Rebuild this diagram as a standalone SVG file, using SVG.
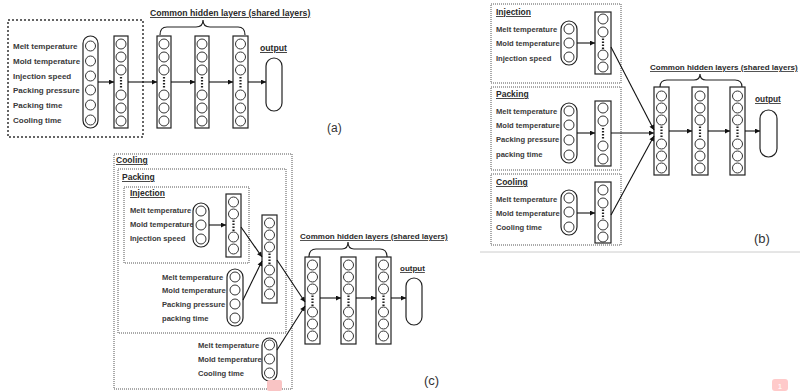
<svg xmlns="http://www.w3.org/2000/svg" width="800" height="391" viewBox="0 0 800 391">
<style>
.lbl{font-family:"Liberation Sans",Arial,sans-serif;font-weight:bold;fill:#3a3a3a}
.ttl{font-family:"Liberation Sans",Arial,sans-serif;font-weight:bold;fill:#2a2a2a;text-decoration:underline}
.pl{font-family:"Liberation Sans",Arial,sans-serif;fill:#333}
.cap,.lay{fill:#fff;stroke:#222;stroke-width:1.2}
.nd{fill:#fff;stroke:#333;stroke-width:1}
.dots{stroke:#222;stroke-width:2.2;stroke-dasharray:1.6 1.4}
.box{fill:none;stroke:#555;stroke-width:1;stroke-dasharray:1 1}
.boxA{fill:none;stroke:#333;stroke-width:1.5;stroke-dasharray:2 2}
.arr{stroke:#111;stroke-width:1.1;fill:none;marker-end:url(#ah)}
.brace{fill:none;stroke:#222;stroke-width:1.2}
</style>
<defs>
<marker id="ah" viewBox="0 0 6 6" refX="6" refY="3" markerWidth="6" markerHeight="5" markerUnits="userSpaceOnUse" orient="auto">
<path d="M0,0 L6,3 L0,6 z" fill="#111"/>
</marker>
</defs>
<rect width="800" height="391" fill="#fff"/>

<!-- ================= Panel (a) ================= -->
<g id="a-inputs">
<rect class="boxA" x="8" y="20" width="135" height="117"/>
<text class="lbl" font-size="8" x="13" y="48.5">Melt temperature</text>
<text class="lbl" font-size="8" x="13" y="63.5">Mold temperature</text>
<text class="lbl" font-size="8" x="13" y="78.5">Injection speed</text>
<text class="lbl" font-size="8" x="13" y="92.5">Packing pressure</text>
<text class="lbl" font-size="8" x="13" y="107.5">Packing time</text>
<text class="lbl" font-size="8" x="13" y="122.5">Cooling time</text>
<rect class="cap" x="83" y="36" width="15" height="92" rx="7.5"/>
<circle class="nd" cx="90.5" cy="46" r="5"/><circle class="nd" cx="90.5" cy="61" r="5"/>
<circle class="nd" cx="90.5" cy="76" r="5"/><circle class="nd" cx="90.5" cy="90" r="5"/>
<circle class="nd" cx="90.5" cy="105" r="5"/><circle class="nd" cx="90.5" cy="120" r="5"/>
</g>
<g id="a-layer1">
<rect class="lay" x="114" y="36" width="14" height="92"/>
<circle class="nd" cx="121" cy="44" r="5"/><circle class="nd" cx="121" cy="57" r="5"/><circle class="nd" cx="121" cy="70" r="5"/>
<line class="dots" x1="121" y1="77" x2="121" y2="89"/>
<circle class="nd" cx="121" cy="95" r="5"/><circle class="nd" cx="121" cy="108" r="5"/><circle class="nd" cx="121" cy="121" r="5"/>
</g>
<g id="a-hidden1">
<rect class="lay" x="157" y="36" width="14" height="92"/>
<circle class="nd" cx="164" cy="44" r="5"/><circle class="nd" cx="164" cy="57" r="5"/><circle class="nd" cx="164" cy="70" r="5"/>
<line class="dots" x1="164" y1="77" x2="164" y2="89"/>
<circle class="nd" cx="164" cy="95" r="5"/><circle class="nd" cx="164" cy="108" r="5"/><circle class="nd" cx="164" cy="121" r="5"/>
</g>
<g id="a-hidden2">
<rect class="lay" x="195" y="36" width="14" height="92"/>
<circle class="nd" cx="202" cy="44" r="5"/><circle class="nd" cx="202" cy="57" r="5"/><circle class="nd" cx="202" cy="70" r="5"/>
<line class="dots" x1="202" y1="77" x2="202" y2="89"/>
<circle class="nd" cx="202" cy="95" r="5"/><circle class="nd" cx="202" cy="108" r="5"/><circle class="nd" cx="202" cy="121" r="5"/>
</g>
<g id="a-hidden3">
<rect class="lay" x="233" y="36" width="15" height="92"/>
<circle class="nd" cx="240.5" cy="44" r="5"/><circle class="nd" cx="240.5" cy="57" r="5"/><circle class="nd" cx="240.5" cy="70" r="5"/>
<line class="dots" x1="240.5" y1="77" x2="240.5" y2="89"/>
<circle class="nd" cx="240.5" cy="95" r="5"/><circle class="nd" cx="240.5" cy="108" r="5"/><circle class="nd" cx="240.5" cy="121" r="5"/>
</g>
<g id="a-output">
<text class="ttl" font-size="8.7" x="260" y="51">output</text>
<rect class="cap" x="266" y="58" width="16" height="53" rx="8"/>
</g>
<g id="a-common">
<text class="ttl" font-size="8.7" x="150" y="16">Common hidden layers (shared layers)</text>
<path class="brace" d="M160,35 Q160,27 167,27 L196,27 Q203,27 203,20 Q203,27 210,27 L238,27 Q245,27 245,35"/>
</g>
<text class="pl" font-size="12" x="327" y="132">(a)</text>

<!-- ================= Panel (b) ================= -->
<g id="b-injection">
<rect class="box" x="491" y="4" width="130" height="79"/>
<text class="ttl" font-size="8.5" x="496" y="15">Injection</text>
<text class="lbl" font-size="7.6" x="496" y="31.5">Melt temperature</text>
<text class="lbl" font-size="7.6" x="496" y="45.5">Mold temperature</text>
<text class="lbl" font-size="7.6" x="496" y="60.5">Injection speed</text>
<rect class="cap" x="561" y="21" width="16" height="44" rx="8"/>
<circle class="nd" cx="569" cy="29" r="5"/><circle class="nd" cx="569" cy="43" r="5"/><circle class="nd" cx="569" cy="57" r="5"/>
<rect class="lay" x="595" y="12" width="16" height="62"/>
<circle class="nd" cx="603" cy="19" r="5"/><circle class="nd" cx="603" cy="32" r="5"/>
<line class="dots" x1="603" y1="38.5" x2="603" y2="49"/>
<circle class="nd" cx="603" cy="55" r="5"/><circle class="nd" cx="603" cy="67" r="5"/>
</g>
<g id="b-packing">
<rect class="box" x="491" y="87" width="130" height="83"/>
<text class="ttl" font-size="8.5" x="496" y="97">Packing</text>
<text class="lbl" font-size="7.6" x="496" y="113.5">Melt temperature</text>
<text class="lbl" font-size="7.6" x="496" y="127.5">Mold temperature</text>
<text class="lbl" font-size="7.6" x="496" y="141.5">Packing pressure</text>
<text class="lbl" font-size="7.6" x="496" y="156.5">packing time</text>
<rect class="cap" x="561" y="103" width="16" height="60" rx="8"/>
<circle class="nd" cx="569" cy="111" r="5"/><circle class="nd" cx="569" cy="125" r="5"/>
<circle class="nd" cx="569" cy="140" r="5"/><circle class="nd" cx="569" cy="155" r="5"/>
<rect class="lay" x="595" y="101" width="16" height="65"/>
<circle class="nd" cx="603" cy="108" r="5"/><circle class="nd" cx="603" cy="121" r="5"/>
<line class="dots" x1="603" y1="128" x2="603" y2="139"/>
<circle class="nd" cx="603" cy="146" r="5"/><circle class="nd" cx="603" cy="159" r="5"/>
</g>
<g id="b-cooling">
<rect class="box" x="491" y="174" width="130" height="71"/>
<text class="ttl" font-size="8.5" x="496" y="185">Cooling</text>
<text class="lbl" font-size="7.6" x="496" y="201.5">Melt temperature</text>
<text class="lbl" font-size="7.6" x="496" y="215.5">Mold temperature</text>
<text class="lbl" font-size="7.6" x="496" y="229.5">Cooling time</text>
<rect class="cap" x="561" y="190" width="16" height="45" rx="8"/>
<circle class="nd" cx="569" cy="198" r="5"/><circle class="nd" cx="569" cy="212" r="5"/><circle class="nd" cx="569" cy="227" r="5"/>
<rect class="lay" x="595" y="182" width="16" height="61"/>
<circle class="nd" cx="603" cy="190" r="5"/><circle class="nd" cx="603" cy="203" r="5"/>
<line class="dots" x1="603" y1="209.5" x2="603" y2="219"/>
<circle class="nd" cx="603" cy="225" r="5"/><circle class="nd" cx="603" cy="237" r="5"/>
</g>
<g id="b-hidden1">
<rect class="lay" x="654" y="87" width="15" height="88"/>
<circle class="nd" cx="661.5" cy="96" r="5"/><circle class="nd" cx="661.5" cy="108" r="5"/><circle class="nd" cx="661.5" cy="120" r="5"/>
<line class="dots" x1="661.5" y1="126.5" x2="661.5" y2="138"/>
<circle class="nd" cx="661.5" cy="144" r="5"/><circle class="nd" cx="661.5" cy="156" r="5"/><circle class="nd" cx="661.5" cy="168" r="5"/>
</g>
<g id="b-hidden2">
<rect class="lay" x="692" y="87" width="16" height="88"/>
<circle class="nd" cx="700" cy="96" r="5"/><circle class="nd" cx="700" cy="108" r="5"/><circle class="nd" cx="700" cy="120" r="5"/>
<line class="dots" x1="700" y1="126.5" x2="700" y2="138"/>
<circle class="nd" cx="700" cy="144" r="5"/><circle class="nd" cx="700" cy="156" r="5"/><circle class="nd" cx="700" cy="168" r="5"/>
</g>
<g id="b-hidden3">
<rect class="lay" x="730" y="87" width="15" height="88"/>
<circle class="nd" cx="737.5" cy="96" r="5"/><circle class="nd" cx="737.5" cy="108" r="5"/><circle class="nd" cx="737.5" cy="120" r="5"/>
<line class="dots" x1="737.5" y1="126.5" x2="737.5" y2="138"/>
<circle class="nd" cx="737.5" cy="144" r="5"/><circle class="nd" cx="737.5" cy="156" r="5"/><circle class="nd" cx="737.5" cy="168" r="5"/>
</g>
<g id="b-output">
<text class="ttl" font-size="8.3" x="755" y="102">output</text>
<rect class="cap" x="760" y="110" width="17" height="47" rx="8.5"/>
</g>
<g id="b-common">
<text class="ttl" font-size="8" x="650" y="70">Common hidden layers (shared layers)</text>
<path class="brace" d="M660,87 Q660,80 667,80 L694,80 Q700,80 700,74 Q700,80 706,80 L735,80 Q742,80 742,87"/>
</g>
<text class="pl" font-size="13" x="754" y="243">(b)</text>
<line x1="480" y1="252" x2="800" y2="252" stroke="#ccc" stroke-width="1"/>

<!-- ================= Panel (c) ================= -->
<g id="c-cooling">
<rect class="box" x="114" y="154" width="178" height="235"/>
<text class="ttl" font-size="8.5" x="116" y="163">Cooling</text>
<text class="lbl" font-size="7.6" x="198" y="347.5">Melt temperature</text>
<text class="lbl" font-size="7.6" x="198" y="361.5">Mold temperature</text>
<text class="lbl" font-size="7.6" x="198" y="375.5">Cooling time</text>
<rect class="cap" x="262" y="338" width="15" height="43" rx="7.5"/>
<circle class="nd" cx="269.5" cy="345" r="5"/><circle class="nd" cx="269.5" cy="359" r="5"/><circle class="nd" cx="269.5" cy="373" r="5"/>
</g>
<g id="c-packing">
<rect class="box" x="118" y="169" width="168" height="164"/>
<text class="ttl" font-size="8.5" x="122" y="180">Packing</text>
<text class="lbl" font-size="7.6" x="162" y="279.5">Melt temperature</text>
<text class="lbl" font-size="7.6" x="162" y="292.5">Mold temperature</text>
<text class="lbl" font-size="7.6" x="162" y="306.5">Packing pressure</text>
<text class="lbl" font-size="7.6" x="162" y="320.5">packing time</text>
<rect class="cap" x="227" y="269" width="16" height="57" rx="8"/>
<circle class="nd" cx="235" cy="277" r="5"/><circle class="nd" cx="235" cy="290" r="5"/>
<circle class="nd" cx="235" cy="304" r="5"/><circle class="nd" cx="235" cy="318" r="5"/>
<rect class="lay" x="262" y="215" width="15" height="88"/>
<circle class="nd" cx="269.5" cy="223" r="5"/><circle class="nd" cx="269.5" cy="235" r="5"/><circle class="nd" cx="269.5" cy="247" r="5"/>
<line class="dots" x1="269.5" y1="253.5" x2="269.5" y2="264"/>
<circle class="nd" cx="269.5" cy="270" r="5"/><circle class="nd" cx="269.5" cy="282" r="5"/><circle class="nd" cx="269.5" cy="294" r="5"/>
</g>
<g id="c-injection">
<rect class="box" x="124" y="187" width="125" height="76"/>
<text class="ttl" font-size="8.5" x="130" y="196">Injection</text>
<text class="lbl" font-size="7.6" x="130" y="213">Melt temperature</text>
<text class="lbl" font-size="7.6" x="130" y="226.5">Mold temperature</text>
<text class="lbl" font-size="7.6" x="130" y="240.5">Injection speed</text>
<rect class="cap" x="193" y="203" width="16" height="44" rx="8"/>
<circle class="nd" cx="201" cy="211" r="5"/><circle class="nd" cx="201" cy="225" r="5"/><circle class="nd" cx="201" cy="239" r="5"/>
<rect class="lay" x="226" y="194" width="15" height="63"/>
<circle class="nd" cx="233.5" cy="202" r="5"/><circle class="nd" cx="233.5" cy="214" r="5"/>
<line class="dots" x1="233.5" y1="220.5" x2="233.5" y2="231"/>
<circle class="nd" cx="233.5" cy="237" r="5"/><circle class="nd" cx="233.5" cy="249" r="5"/>
</g>
<g id="c-hidden1">
<rect class="lay" x="305" y="257" width="15" height="87"/>
<circle class="nd" cx="312.5" cy="265" r="5"/><circle class="nd" cx="312.5" cy="277" r="5"/><circle class="nd" cx="312.5" cy="289" r="5"/>
<line class="dots" x1="312.5" y1="295.5" x2="312.5" y2="306"/>
<circle class="nd" cx="312.5" cy="312" r="5"/><circle class="nd" cx="312.5" cy="324" r="5"/><circle class="nd" cx="312.5" cy="336" r="5"/>
</g>
<g id="c-hidden2">
<rect class="lay" x="341" y="257" width="15" height="87"/>
<circle class="nd" cx="348.5" cy="265" r="5"/><circle class="nd" cx="348.5" cy="277" r="5"/><circle class="nd" cx="348.5" cy="289" r="5"/>
<line class="dots" x1="348.5" y1="295.5" x2="348.5" y2="306"/>
<circle class="nd" cx="348.5" cy="312" r="5"/><circle class="nd" cx="348.5" cy="324" r="5"/><circle class="nd" cx="348.5" cy="336" r="5"/>
</g>
<g id="c-hidden3">
<rect class="lay" x="376" y="257" width="15" height="87"/>
<circle class="nd" cx="383.5" cy="265" r="5"/><circle class="nd" cx="383.5" cy="277" r="5"/><circle class="nd" cx="383.5" cy="289" r="5"/>
<line class="dots" x1="383.5" y1="295.5" x2="383.5" y2="306"/>
<circle class="nd" cx="383.5" cy="312" r="5"/><circle class="nd" cx="383.5" cy="324" r="5"/><circle class="nd" cx="383.5" cy="336" r="5"/>
</g>
<g id="c-output">
<text class="ttl" font-size="8" x="400" y="271">output</text>
<rect class="cap" x="406" y="278" width="16" height="47" rx="8"/>
</g>
<g id="c-common">
<text class="ttl" font-size="8" x="300" y="239">Common hidden layers (shared layers)</text>
<path class="brace" d="M309,257 Q309,249 316,249 L342,249 Q348,249 348,242 Q348,249 354,249 L380,249 Q387,249 387,257"/>
</g>
<text class="pl" font-size="13" x="424" y="385">(c)</text>

<!-- ================= Connectors ================= -->
<g id="connectors">
<line class="arr" x1="98" y1="82" x2="114" y2="82"/>
<line class="arr" x1="128" y1="82" x2="157" y2="82"/>
<line class="arr" x1="171" y1="82" x2="195" y2="82"/>
<line class="arr" x1="209" y1="82" x2="233" y2="82"/>
<line class="arr" x1="248" y1="82" x2="266" y2="82"/>

<line class="arr" x1="577" y1="43" x2="595" y2="43"/>
<line class="arr" x1="577" y1="133" x2="595" y2="133"/>
<line class="arr" x1="577" y1="213" x2="595" y2="213"/>
<line class="arr" x1="611" y1="47" x2="654" y2="130"/>
<line class="arr" x1="611" y1="133" x2="654" y2="133"/>
<line class="arr" x1="611" y1="215" x2="654" y2="136"/>
<line class="arr" x1="669" y1="131" x2="692" y2="131"/>
<line class="arr" x1="708" y1="131" x2="730" y2="131"/>
<line class="arr" x1="745" y1="131" x2="760" y2="131"/>

<line class="arr" x1="209" y1="225" x2="226" y2="225"/>
<line class="arr" x1="241" y1="227" x2="262" y2="257"/>
<line class="arr" x1="243" y1="300" x2="262" y2="261"/>
<line class="arr" x1="277" y1="260" x2="305" y2="302"/>
<line class="arr" x1="277" y1="350" x2="305" y2="306"/>
<line class="arr" x1="320" y1="298" x2="341" y2="298"/>
<line class="arr" x1="356" y1="298" x2="376" y2="298"/>
<line class="arr" x1="391" y1="298" x2="406" y2="298"/>
</g>

<!-- page badges -->
<rect x="267" y="380" width="15" height="11" rx="2" fill="#f9c4c4"/>
<rect x="772" y="379" width="16" height="12" rx="3" fill="#ffcaca"/>
<text x="780" y="389" font-size="8" text-anchor="middle" fill="#fff" font-family="Liberation Sans,Arial,sans-serif">1</text>
</svg>
